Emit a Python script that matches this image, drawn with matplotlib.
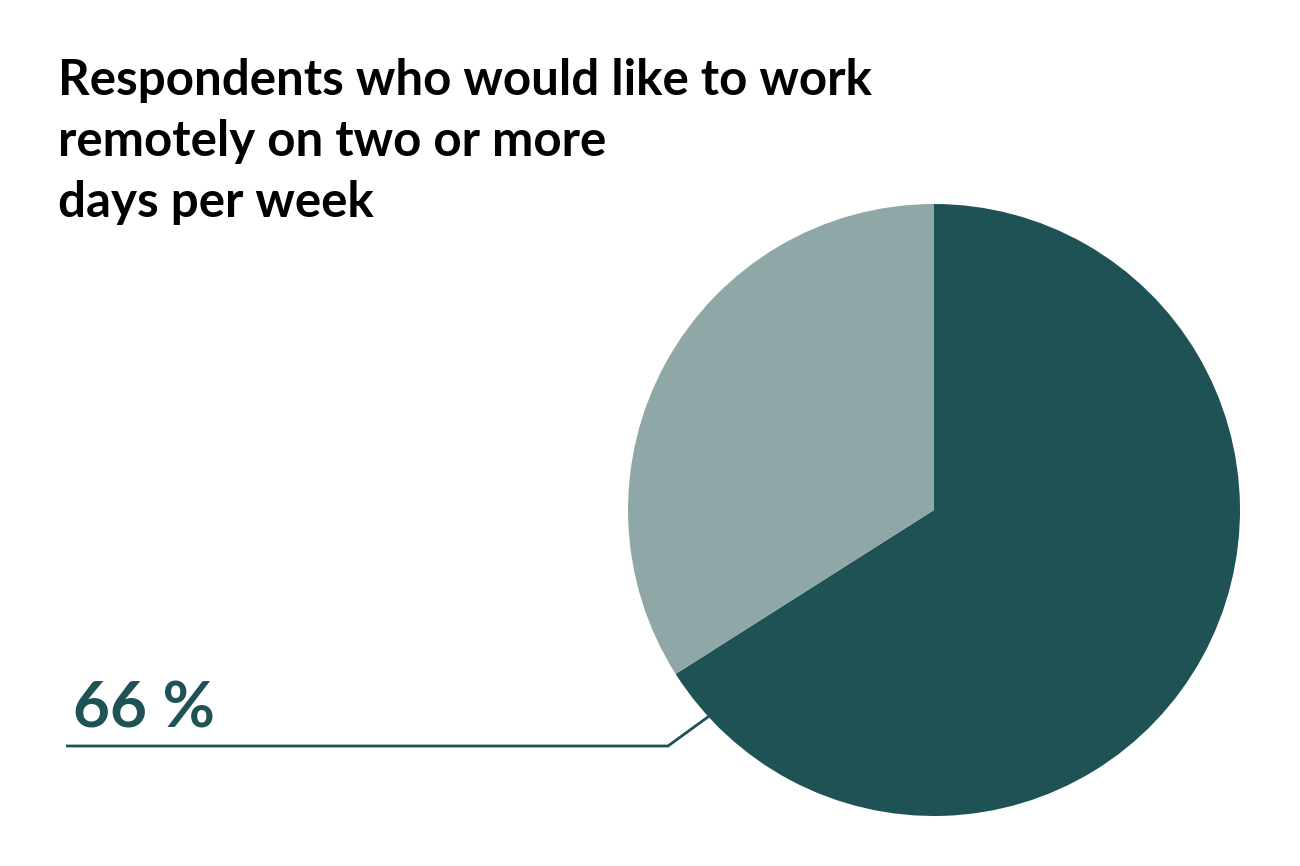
import matplotlib
matplotlib.use("Agg")
import matplotlib.pyplot as plt

plt.rcParams['font.family'] = ['Lato', 'Open Sans', 'DejaVu Sans']

labels = ['Yes', 'No']
shares = [66, 34]
colors = ['#1f5254', '#8fa8a7']
title_lines = ['Respondents who would like to work',
               'remotely on two or more',
               'days per week']

W, H = 1300, 866
fig = plt.figure(figsize=(13, 8.66), dpi=100)
ax = fig.add_axes([0, 0, 1, 1])
ax.set_xlim(0, W)
ax.set_ylim(0, H)
ax.set_aspect('equal')
ax.axis('off')

cx, cy, r = 934, H - 510, 306
ax.pie(shares, colors=colors, startangle=90, counterclock=False,
       center=(cx, cy), radius=r, frame=True,
       wedgeprops=dict(linewidth=0))
ax.set_xlim(0, W)
ax.set_ylim(0, H)
ax.axis('off')

# leader line for the 66 % label
ax.plot([66, 668, 712], [H - 746, H - 746, H - 714], color=colors[0],
        lw=2, solid_capstyle='butt', zorder=0)
ax.text(73, H - 727, f'{shares[0]} %', fontsize=46, fontweight='bold',
        color=colors[0], va='baseline', ha='left')

for i, line in enumerate(title_lines):
    ax.text(58, H - 95 - 61 * i, line, fontsize=35.5, fontweight='bold',
            color='black', va='baseline', ha='left')

fig.savefig('out.png', dpi=100, facecolor='white')
